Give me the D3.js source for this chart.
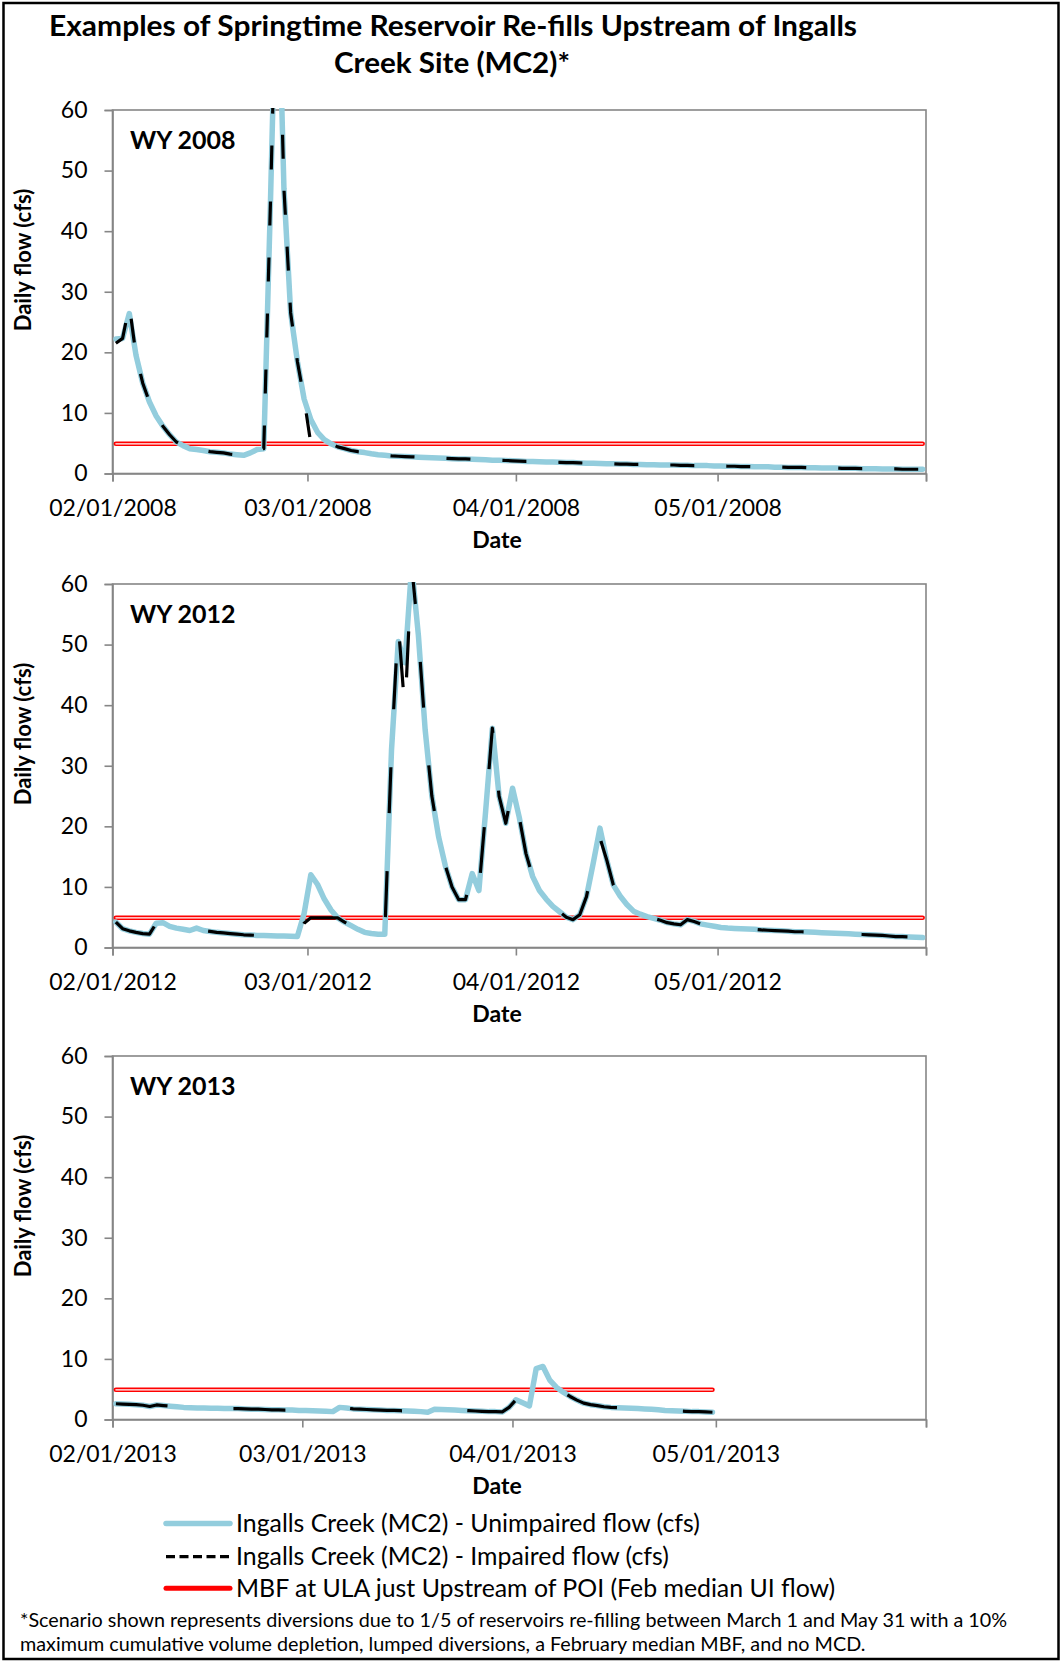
<!DOCTYPE html>
<html>
<head>
<meta charset="utf-8">
<script src="https://cdn.jsdelivr.net/npm/d3@7"></script>
<style>
  body { margin: 0; background: #fff; }
  svg { display: block; font-family: Lato, "Open Sans", sans-serif; }
</style>
</head>
<body>
<svg id="chart" width="1062" height="1663"></svg>
<script>
// ---- Data: daily flows (cfs), one value per day starting 1 February ----
const yTickValues = [0, 10, 20, 30, 40, 50, 60];

const xTickLabels2008 = ["02/01/2008", "03/01/2008", "04/01/2008", "05/01/2008", ""];
const xTickLabels2012 = ["02/01/2012", "03/01/2012", "04/01/2012", "05/01/2012", ""];
const xTickLabels2013 = ["02/01/2013", "03/01/2013", "04/01/2013", "05/01/2013", ""];

const unimpaired2008 = [
  22.2, 22.3, 26.4, 19.5, 14.9, 11.8, 9.5, 7.8, 6.4, 5.2,
  4.6, 4.1, 3.95, 3.8, 3.6, 3.5, 3.4, 3.2, 3.1, 3.0,
  3.4, 3.95, 4.1, 45, 90, 47, 26.5, 18.5, 12.3, 8.9,
  6.8, 5.6, 4.9, 4.4, 4.1, 3.8, 3.6, 3.45, 3.25, 3.1,
  3.0, 2.9, 2.85, 2.8, 2.75, 2.7, 2.65, 2.6, 2.55, 2.5,
  2.45, 2.4, 2.4, 2.35, 2.3, 2.25, 2.2, 2.2, 2.15, 2.1,
  2.05, 2.0, 2.0, 1.95, 1.9, 1.9, 1.85, 1.8, 1.8, 1.75,
  1.7, 1.7, 1.65, 1.6, 1.6, 1.55, 1.55, 1.5, 1.5, 1.45,
  1.45, 1.4, 1.4, 1.4, 1.35, 1.35, 1.3, 1.3, 1.3, 1.25,
  1.25, 1.2, 1.2, 1.15, 1.15, 1.1, 1.1, 1.1, 1.05, 1.05,
  1.0, 1.0, 1.0, 0.95, 0.95, 0.9, 0.9, 0.9, 0.85, 0.85,
  0.85, 0.8, 0.8, 0.8, 0.75, 0.75, 0.75, 0.7, 0.7, 0.7,
  0.7
];
const impaired2008 = [
  21.5, 22.3, 27.8, 19.5, 14.9, 11.8, 9.5, 7.8, 6.4, 5.2,
  4.6, 4.1, 3.95, 3.8, 3.6, 3.5, 3.4, 3.2, 3.1, 3.0,
  3.4, 3.95, 4.1, 45, 90, 47, 26.5, 18.5, 12.3, 4.9,
  4.9, 4.9, 4.9, 4.4, 4.1, 3.8, 3.6, 3.45, 3.25, 3.1,
  3.0, 2.9, 2.85, 2.8, 2.75, 2.7, 2.65, 2.6, 2.55, 2.5,
  2.45, 2.4, 2.4, 2.35, 2.3, 2.25, 2.2, 2.2, 2.15, 2.1,
  2.05, 2.0, 2.0, 1.95, 1.9, 1.9, 1.85, 1.8, 1.8, 1.75,
  1.7, 1.7, 1.65, 1.6, 1.6, 1.55, 1.55, 1.5, 1.5, 1.45,
  1.45, 1.4, 1.4, 1.4, 1.35, 1.35, 1.3, 1.3, 1.3, 1.25,
  1.25, 1.2, 1.2, 1.15, 1.15, 1.1, 1.1, 1.1, 1.05, 1.05,
  1.0, 1.0, 1.0, 0.95, 0.95, 0.9, 0.9, 0.9, 0.85, 0.85,
  0.85, 0.8, 0.8, 0.8, 0.75, 0.75, 0.75, 0.7, 0.7, 0.7,
  0.7
];

const unimpaired2012 = [
  4.2, 3.1, 2.75, 2.5, 2.3, 2.2, 4.0, 4.1, 3.5, 3.2,
  3.0, 2.8, 3.2, 2.8, 2.65, 2.5, 2.4, 2.3, 2.2, 2.1,
  2.05, 2.0, 2.0, 1.95, 1.9, 1.9, 1.85, 1.8, 5.6, 12.0,
  10.4, 8.0, 6.2, 4.9, 4.2, 3.6, 3.0, 2.5, 2.3, 2.2,
  2.2, 32.6, 50.5, 47.0, 63.0, 51.5, 36.0, 25.0, 18.3, 13.5,
  10.0, 7.9, 7.9, 12.2, 9.4, 22.5, 36.2, 25.0, 20.5, 26.3,
  21.5, 15.5, 11.7, 9.4, 8.0, 6.8, 5.9, 5.0, 4.6, 5.4,
  8.4, 13.9, 19.7, 14.5, 10.3, 8.5, 7.1, 6.0, 5.5, 5.1,
  4.8, 4.5, 4.1, 3.9, 3.75, 4.6, 4.3, 3.9, 3.7, 3.5,
  3.3, 3.2, 3.15, 3.1, 3.05, 3.0, 2.9, 2.85, 2.8, 2.75,
  2.7, 2.6, 2.6, 2.55, 2.5, 2.45, 2.4, 2.35, 2.3, 2.25,
  2.2, 2.15, 2.1, 2.05, 2.0, 1.9, 1.8, 1.8, 1.75, 1.7,
  1.65
];
const impaired2012 = [
  4.2, 3.1, 2.75, 2.5, 2.3, 2.2, 4.0, 4.1, 3.5, 3.2,
  3.0, 2.8, 3.2, 2.8, 2.65, 2.5, 2.4, 2.3, 2.2, 2.1,
  2.05, 2.0, 2.0, 1.95, 1.9, 1.9, 1.85, 1.8, 4.0, 4.9,
  4.9, 4.9, 4.9, 4.9, 4.2, 3.6, 3.0, 2.5, 2.3, 2.2,
  2.2, 32.6, 53.5, 39.0, 63.0, 51.5, 36.0, 25.0, 18.3, 13.5,
  10.0, 7.9, 7.9, 12.2, 9.4, 22.5, 36.2, 25.0, 20.5, 26.3,
  21.5, 15.5, 11.7, 9.4, 8.0, 6.8, 5.9, 5.0, 4.6, 5.4,
  8.4, 13.9, 18.1, 14.5, 10.3, 8.5, 7.1, 6.0, 5.5, 5.1,
  4.8, 4.5, 4.1, 3.9, 3.75, 4.6, 4.3, 3.9, 3.7, 3.5,
  3.3, 3.2, 3.15, 3.1, 3.05, 3.0, 2.9, 2.85, 2.8, 2.75,
  2.7, 2.6, 2.6, 2.55, 2.5, 2.45, 2.4, 2.35, 2.3, 2.25,
  2.2, 2.15, 2.1, 2.05, 2.0, 1.9, 1.8, 1.8, 1.75, 1.7,
  1.65
];

const unimpaired2013 = [
  2.6, 2.55, 2.5, 2.45, 2.35, 2.15, 2.4, 2.3, 2.2, 2.1,
  2.0, 1.95, 1.9, 1.9, 1.85, 1.85, 1.8, 1.8, 1.8, 1.75,
  1.7, 1.7, 1.65, 1.6, 1.6, 1.55, 1.55, 1.5, 1.5, 1.45,
  1.4, 1.35, 1.3, 2.0, 1.9, 1.75, 1.7, 1.65, 1.6, 1.55,
  1.5, 1.5, 1.45, 1.4, 1.35, 1.3, 1.2, 1.7, 1.65, 1.6,
  1.55, 1.5, 1.45, 1.4, 1.35, 1.3, 1.3, 1.25, 2.0, 3.25,
  2.75, 2.25, 8.4, 8.75, 6.5, 5.3, 4.5, 3.8, 3.2, 2.7,
  2.45, 2.3, 2.1, 2.0, 1.95, 1.9, 1.85, 1.8, 1.75, 1.7,
  1.6, 1.5, 1.45, 1.4, 1.35, 1.3, 1.3, 1.25, 1.2
];
const impaired2013 = [
  2.6, 2.55, 2.5, 2.45, 2.35, 2.15, 2.4, 2.3, 2.2, 2.1,
  2.0, 1.95, 1.9, 1.9, 1.85, 1.85, 1.8, 1.8, 1.8, 1.75,
  1.7, 1.7, 1.65, 1.6, 1.6, 1.55, 1.55, 1.5, 1.5, 1.45,
  1.4, 1.35, 1.3, 2.0, 1.9, 1.75, 1.7, 1.65, 1.6, 1.55,
  1.5, 1.5, 1.45, 1.4, 1.35, 1.3, 1.2, 1.7, 1.65, 1.6,
  1.55, 1.5, 1.45, 1.4, 1.35, 1.3, 1.3, 1.25, 2.0, 3.25,
  2.75, 2.25, 4.9, 4.9, 4.9, 4.9, 4.5, 3.8, 3.2, 2.7,
  2.45, 2.3, 2.1, 2.0, 1.95, 1.9, 1.85, 1.8, 1.75, 1.7,
  1.6, 1.5, 1.45, 1.4, 1.35, 1.3, 1.3, 1.25, 1.2
];

// Minimum bypass flow (Feb median unimpaired flow), cfs
const mbf2008 = 4.9;
const mbf2012 = 4.9;
const mbf2013 = 4.9;

const panelLabels = ["WY 2008", "WY 2012", "WY 2013"];

const legendLabels = [
  "Ingalls Creek (MC2) - Unimpaired flow (cfs)",
  "Ingalls Creek (MC2) - Impaired flow (cfs)",
  "MBF at ULA just Upstream of POI (Feb median UI flow)"
];
const titleLines = [
  "Examples of Springtime Reservoir Re-fills Upstream of Ingalls",
  "Creek Site (MC2)*"
];
const footnoteLines = [
  "*Scenario shown represents diversions due to 1/5 of reservoirs re-filling between March 1 and May 31 with a 10%",
  "maximum cumulative volume depletion, lumped diversions, a February median MBF, and no MCD."
];

// ---- Layout & style ----
const COLORS = { unimpaired: "#93CDDD", impaired: "#000000", mbf: "#FF0000", axis: "#868686" };
const plotLeft = 112.5, plotRight = 926, plotH = 363.5;
const panelTops = [110, 584, 1056];
const dashByPanel = ["24,32", "46,58", "52,66"];

const panels = [
  { year: 2008, label: panelLabels[0], ticks: xTickLabels2008, unimp: unimpaired2008, imp: impaired2008, mbf: mbf2008 },
  { year: 2012, label: panelLabels[1], ticks: xTickLabels2012, unimp: unimpaired2012, imp: impaired2012, mbf: mbf2012 },
  { year: 2013, label: panelLabels[2], ticks: xTickLabels2013, unimp: unimpaired2013, imp: impaired2013, mbf: mbf2013 }
];

const svg = d3.select("#chart");

function fitWidth(sel, target) {
  const w = sel.node().getComputedTextLength();
  const fs = parseFloat(sel.attr("font-size"));
  sel.attr("font-size", (fs * target / w).toFixed(2));
  return fs * target / w;
}

// outer frame
svg.append("rect")
  .attr("x", 3.5).attr("y", 3).attr("width", 1055).attr("height", 1656)
  .attr("fill", "none").attr("stroke", "#000").attr("stroke-width", 2.5);

// title: two centred bold lines, slightly condensed
svg.append("text").attr("x", 453).attr("y", 36).attr("text-anchor", "middle")
  .attr("font-weight", 700).attr("font-size", 29)
  .attr("textLength", 808).attr("lengthAdjust", "spacingAndGlyphs")
  .text(titleLines[0]);
svg.append("text").attr("x", 452).attr("y", 73).attr("text-anchor", "middle")
  .attr("font-weight", 700).attr("font-size", 29)
  .attr("textLength", 236).attr("lengthAdjust", "spacingAndGlyphs")
  .text(titleLines[1]);

panels.forEach((p, i) => {
  const top = panelTops[i];
  const bottom = top + plotH;
  const x = d3.scaleTime()
    .domain([new Date(p.year, 1, 1), new Date(p.year, 5, 1)])
    .range([plotLeft, plotRight]);
  const y = d3.scaleLinear().domain([0, 60]).range([bottom, top]);

  const g = svg.append("g");

  // plot-area frame
  g.append("rect")
    .attr("x", plotLeft).attr("y", top).attr("width", plotRight - plotLeft).attr("height", plotH)
    .attr("fill", "none").attr("stroke", COLORS.axis).attr("stroke-width", 1.6);

  // y axis
  const yAxis = g.append("g").attr("transform", `translate(${plotLeft},0)`)
    .call(d3.axisLeft(y).tickValues(yTickValues).tickSize(8).tickPadding(17).tickFormat(d3.format("d")));
  yAxis.select(".domain").attr("stroke", COLORS.axis).attr("stroke-width", 1.6);
  yAxis.selectAll(".tick line").attr("stroke", COLORS.axis).attr("stroke-width", 1.6);
  yAxis.selectAll(".tick text").attr("font-size", 23).attr("fill", "#000")
    .attr("font-family", "Lato, 'Open Sans', sans-serif");

  // x axis: month starts
  const monthStarts = d3.range(5).map(m => new Date(p.year, 1 + m, 1));
  const xAxis = g.append("g").attr("transform", `translate(0,${bottom})`)
    .call(d3.axisBottom(x).tickValues(monthStarts).tickSize(8).tickPadding(18)
      .tickFormat((d, k) => p.ticks[k]));
  xAxis.select(".domain").attr("stroke", COLORS.axis).attr("stroke-width", 1.6);
  xAxis.selectAll(".tick line").attr("stroke", COLORS.axis).attr("stroke-width", 1.6);
  xAxis.selectAll(".tick text").attr("font-size", 23).attr("fill", "#000")
    .attr("font-family", "Lato, 'Open Sans', sans-serif");

  // axis titles
  g.append("text").attr("x", 497).attr("y", bottom + 74.5).attr("text-anchor", "middle")
    .attr("font-weight", 700).attr("font-size", 23).text("Date");
  g.append("text").attr("transform", `translate(31,${top + 150}) rotate(-90)`)
    .attr("text-anchor", "middle").attr("font-weight", 700).attr("font-size", 22)
    .text("Daily flow (cfs)");

  // clip to the plot area (peaks above 60 cfs are cut off)
  const clipId = `clip${p.year}`;
  svg.append("clipPath").attr("id", clipId).append("rect")
    .attr("x", plotLeft - 4).attr("y", top - 2).attr("width", plotRight - plotLeft + 8).attr("height", plotH + 4);

  // daily points sit mid-day
  const dates = p.unimp.map((_, k) => new Date(p.year, 1, 1 + k, 12));
  const line = d3.line().x(d => x(d[0])).y(d => y(d[1]));
  const series = g.append("g").attr("clip-path", `url(#${clipId})`);

  // MBF: red double line
  const mbfPts = dates.map(d => [d, p.mbf]);
  series.append("path").attr("d", line(mbfPts)).attr("fill", "none")
    .attr("stroke", COLORS.mbf).attr("stroke-width", 4.6).attr("stroke-linecap", "round");
  series.append("path").attr("d", line(mbfPts)).attr("fill", "none")
    .attr("stroke", "#fff").attr("stroke-width", 1.3).attr("stroke-linecap", "round");

  // unimpaired flow
  series.append("path").attr("d", line(dates.map((d, k) => [d, p.unimp[k]])))
    .attr("fill", "none").attr("stroke", COLORS.unimpaired).attr("stroke-width", 5.5)
    .attr("stroke-linejoin", "round").attr("stroke-linecap", "round");

  // impaired flow
  series.append("path").attr("d", line(dates.map((d, k) => [d, p.imp[k]])))
    .attr("fill", "none").attr("stroke", COLORS.impaired).attr("stroke-width", 3.2)
    .attr("stroke-dasharray", dashByPanel[i]).attr("stroke-linejoin", "round");

  // water-year label
  g.append("text").attr("x", 130).attr("y", top + 39.3).attr("font-weight", 700)
    .attr("font-size", 25).text(p.label);
});

// legend
const legendRows = [1523.5, 1556.7, 1588.3];
const lx0 = 166, lx1 = 230;
svg.append("line").attr("x1", lx0).attr("x2", lx1).attr("y1", legendRows[0]).attr("y2", legendRows[0])
  .attr("stroke", COLORS.unimpaired).attr("stroke-width", 5.5).attr("stroke-linecap", "round");
svg.append("line").attr("x1", lx0).attr("x2", lx1).attr("y1", legendRows[1]).attr("y2", legendRows[1])
  .attr("stroke", COLORS.impaired).attr("stroke-width", 3.2).attr("stroke-dasharray", "9,4.5");
svg.append("line").attr("x1", lx0).attr("x2", lx1).attr("y1", legendRows[2]).attr("y2", legendRows[2])
  .attr("stroke", COLORS.mbf).attr("stroke-width", 5).attr("stroke-linecap", "round");

const lt0 = svg.append("text").attr("x", 236).attr("y", legendRows[0] + 8.3)
  .attr("font-size", 23).text(legendLabels[0]);
const legendSize = fitWidth(lt0, 464);
legendLabels.slice(1).forEach((s, k) => {
  svg.append("text").attr("x", 236).attr("y", legendRows[k + 1] + 8.3)
    .attr("font-size", legendSize.toFixed(2)).text(s);
});

// footnote
const f0 = svg.append("text").attr("x", 20).attr("y", 1627).attr("font-size", 18).text(footnoteLines[0]);
const footSize = fitWidth(f0, 988);
svg.append("text").attr("x", 20).attr("y", 1651).attr("font-size", footSize.toFixed(2)).text(footnoteLines[1]);
</script>
</body>
</html>
